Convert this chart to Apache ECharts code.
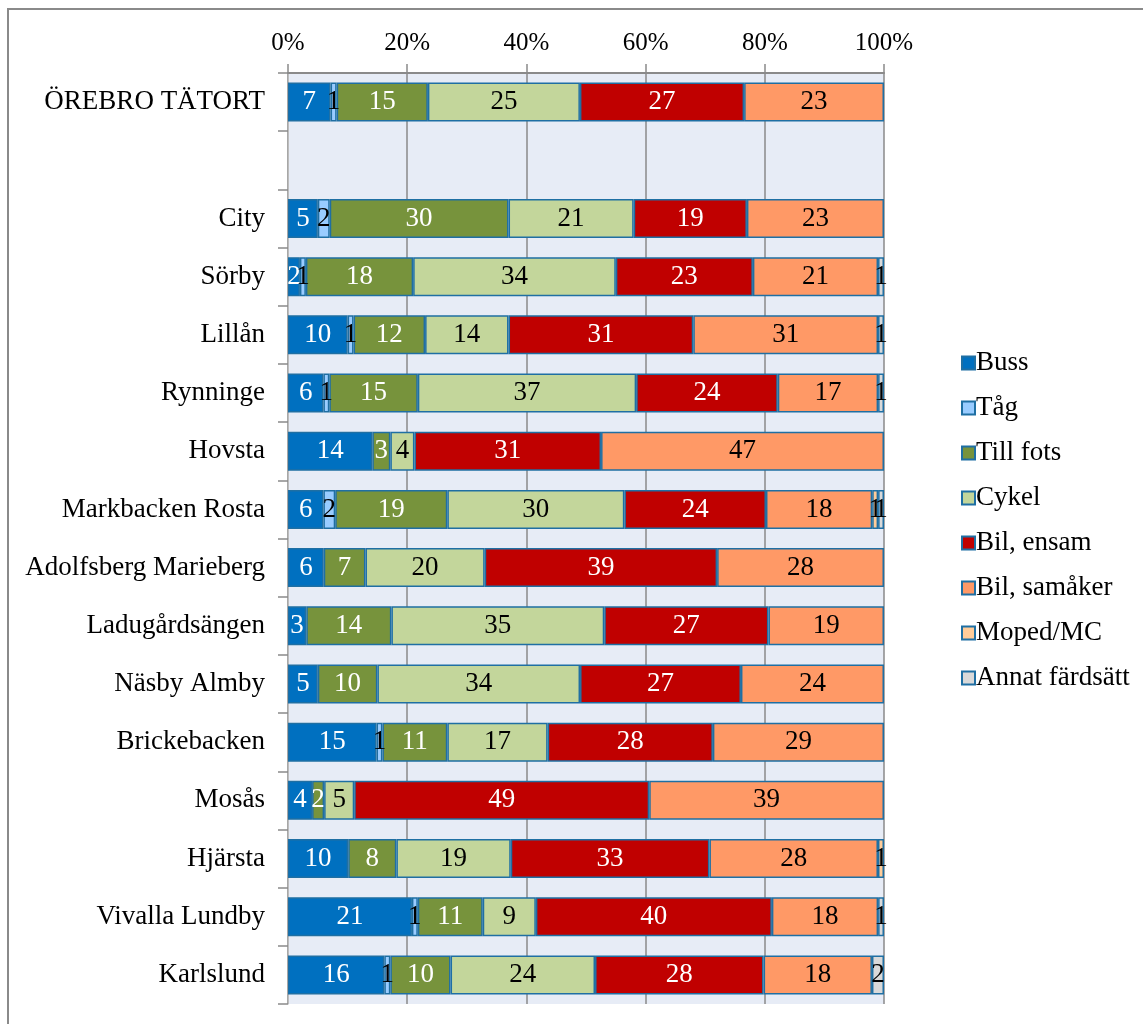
<!DOCTYPE html>
<html>
<head>
<meta charset="utf-8">
<script src="https://cdn.jsdelivr.net/npm/echarts@6/dist/echarts.min.js"></script>
<style>
  html, body { margin: 0; padding: 0; background: #ffffff; }
  #chart { width: 1143px; height: 1024px; }
</style>
</head>
<body>
<div id="chart"></div>
<script>
// Färdsätt per område, andel i procent (avrundade värden)
const categories = [
  'ÖREBRO TÄTORT', '', 'City', 'Sörby', 'Lillån', 'Rynninge', 'Hovsta',
  'Markbacken Rosta', 'Adolfsberg Marieberg', 'Ladugårdsängen', 'Näsby Almby',
  'Brickebacken', 'Mosås', 'Hjärsta', 'Vivalla Lundby', 'Karlslund'
];
const seriesNames = ['Buss', 'Tåg', 'Till fots', 'Cykel', 'Bil, ensam', 'Bil, samåker', 'Moped/MC', 'Annat färdsätt'];

const buss       = [7, null, 5, 2, 10, 6, 14, 6, 6, 3, 5, 15, 4, 10, 21, 16];
const tag        = [1, null, 2, 1, 1, 1, null, 2, null, null, null, 1, null, null, 1, 1];
const tillFots   = [15, null, 30, 18, 12, 15, 3, 19, 7, 14, 10, 11, 2, 8, 11, 10];
const cykel      = [25, null, 21, 34, 14, 37, 4, 30, 20, 35, 34, 17, 5, 19, 9, 24];
const bilEnsam   = [27, null, 19, 23, 31, 24, 31, 24, 39, 27, 27, 28, 49, 33, 40, 28];
const bilSamaker = [23, null, 23, 21, 31, 17, 47, 18, 28, 19, 24, 29, 39, 28, 18, 18];
const moped      = [null, null, null, null, null, null, null, 1, null, null, null, null, null, 1, null, null];
const annat      = [null, null, null, 1, 1, 1, null, 1, null, null, null, null, null, null, 1, 2];

const xTicks = [0, 20, 40, 60, 80, 100];

const seriesValues = [buss, tag, tillFots, cykel, bilEnsam, bilSamaker, moped, annat];
const colors = ['#0070C0', '#99CCFF', '#77933C', '#C3D69B', '#C00000', '#FF9966', '#FFCC99', '#D9D9D9'];
const labelColors = ['#ffffff', '#000000', '#ffffff', '#000000', '#ffffff', '#000000', '#000000', '#000000'];

const FONT = "'Liberation Serif', 'Times New Roman', serif";

// Radsummor, så att varje stapel visas som 100 %
const totals = categories.map((_, i) =>
  seriesValues.reduce((s, arr) => s + (arr[i] || 0), 0));

const series = seriesNames.map((name, k) => ({
  name: name,
  type: 'bar',
  stack: 'andel',
  barWidth: 39,
  itemStyle: { color: colors[k], borderColor: '#1F6FA3', borderWidth: 1.5 },
  label: {
    show: true,
    position: 'inside',
    color: labelColors[k],
    fontFamily: FONT,
    fontSize: 27,
    formatter: p => {
      const v = seriesValues[k][p.dataIndex];
      return v == null ? '' : String(v);
    }
  },
  emphasis: { disabled: true },
  data: seriesValues[k].map((v, i) =>
    v == null || totals[i] === 0 ? null : v / totals[i] * 100)
}));

const chart = echarts.init(document.getElementById('chart'), null, { renderer: 'canvas' });
chart.setOption({
  animation: false,
  backgroundColor: '#ffffff',
  textStyle: { fontFamily: FONT },
  graphic: [{
    type: 'rect',
    shape: { x: 8, y: 9, width: 1160, height: 1040 },
    style: { fill: 'none', stroke: '#8a8a8a', lineWidth: 2 },
    silent: true,
    z: -10
  }],
  grid: {
    left: 288, right: 259, top: 73, bottom: 20,
    show: true,
    backgroundColor: '#E7ECF6',
    borderWidth: 0
  },
  legend: {
    orient: 'vertical',
    left: 956,
    top: 343,
    itemWidth: 13,
    itemHeight: 13,
    itemGap: 15,
    icon: 'rect',
    data: seriesNames,
    textStyle: {
      fontFamily: FONT,
      fontSize: 27,
      lineHeight: 30,
      color: '#000000',
      padding: [0, 0, 0, -4]
    }
  },
  xAxis: {
    type: 'value',
    position: 'top',
    min: 0,
    max: 100,
    interval: 20,
    axisLine: { show: true, lineStyle: { color: '#8a8a8a', width: 2 } },
    axisTick: { show: true, length: 9, lineStyle: { color: '#8a8a8a', width: 1.5 } },
    splitLine: { show: true, lineStyle: { color: '#8a8a8a', width: 1.5 } },
    axisLabel: {
      color: '#000000',
      fontFamily: FONT,
      fontSize: 25,
      margin: 17,
      formatter: v => xTicks.includes(v) ? v + '%' : ''
    }
  },
  yAxis: {
    type: 'category',
    inverse: true,
    data: categories,
    axisLine: { show: true, lineStyle: { color: '#bdbdbd', width: 1 } },
    axisTick: { show: true, length: 10, lineStyle: { color: '#8a8a8a', width: 1.5 } },
    axisLabel: {
      color: '#000000',
      fontFamily: FONT,
      fontSize: 27,
      margin: 23
    }
  },
  series: series
});
</script>
</body>
</html>
